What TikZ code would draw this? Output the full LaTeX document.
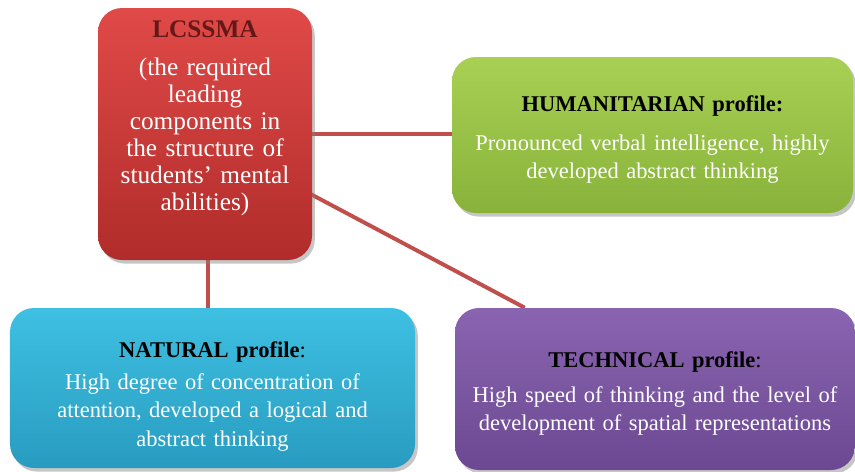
\documentclass[tikz,border=0pt]{standalone}
\usepackage{fontspec}
\setmainfont{Liberation Serif}
\usetikzlibrary{shadows,backgrounds,calc}

\definecolor{linkred}{RGB}{192,78,74}
\definecolor{redtop}{RGB}{224,74,72}
\definecolor{redbot}{RGB}{176,44,42}
\definecolor{grntop}{RGB}{168,208,84}
\definecolor{grnbot}{RGB}{136,178,58}
\definecolor{blutop}{RGB}{62,192,226}
\definecolor{blubot}{RGB}{40,156,192}
\definecolor{purtop}{RGB}{138,100,176}
\definecolor{purbot}{RGB}{108,72,146}
\definecolor{titlered}{RGB}{100,24,24}

\tikzset{
  box/.style={rounded corners=0.6cm, align=center, text=white, inner sep=2pt,
    font=\fontsize{16}{20}\selectfont,
    drop shadow={opacity=0.45, shadow xshift=0.07cm, shadow yshift=-0.09cm}},
  bigbox/.style={box, font=\fontsize{18}{19.2}\selectfont},
  link/.style={line width=2.8pt, linkred}
}

\begin{document}
\begin{tikzpicture}
	\useasboundingbox (0,0) rectangle (21.375,-11.8);

	\node[bigbox, top color=redtop, bottom color=redbot, minimum width=5.35cm, minimum height=6.3cm, text width=5cm] (lcssma) at (5.125,-3.35)
		{{\bfseries\color{titlered}LCSSMA}\\[8pt](the required\\leading\\components in\\the structure of\\students' mental\\abilities)\rule[-26pt]{0pt}{0pt}};
	\node[box, top color=grntop, bottom color=grnbot, minimum width=10.025cm, minimum height=3.9cm, text width=9.7cm] (hum) at (16.3125,-3.375)
		{\rule{0pt}{18pt}{\bfseries\color{black}HUMANITARIAN profile:}\\[8pt]Pronounced verbal intelligence, highly\\developed abstract thinking};
	\node[box, top color=blutop, bottom color=blubot, minimum width=10.125cm, minimum height=4cm, text width=9.8cm] (nat) at (5.3125,-9.7)
		{\rule{0pt}{23pt}{\color{black}\textbf{NATURAL profile}:}\\[3pt]High degree of concentration of\\attention, developed a logical and\\abstract thinking};
	\node[box, top color=purtop, bottom color=purbot, minimum width=10cm, minimum height=4.05cm, text width=9.7cm] (tech) at (16.375,-9.725)
		{\rule{0pt}{18pt}{\color{black}\textbf{TECHNICAL profile}:}\\[5pt]High speed of thinking and the level of\\development of spatial representations};

	%links behind the boxes
	\coordinate (techin) at ($(tech.north west)+(1.75,0)$);
	\begin{scope}[on background layer]
		\draw[link] (lcssma.center) -- (lcssma.center -| hum.west);
		\draw[link] ([xshift=0.075cm]lcssma.center) -- ([xshift=0.075cm]lcssma.center |- nat.north);
		\draw[link] ([yshift=-0.1cm]lcssma.center) -- (techin);
	\end{scope}
\end{tikzpicture}
\end{document}
